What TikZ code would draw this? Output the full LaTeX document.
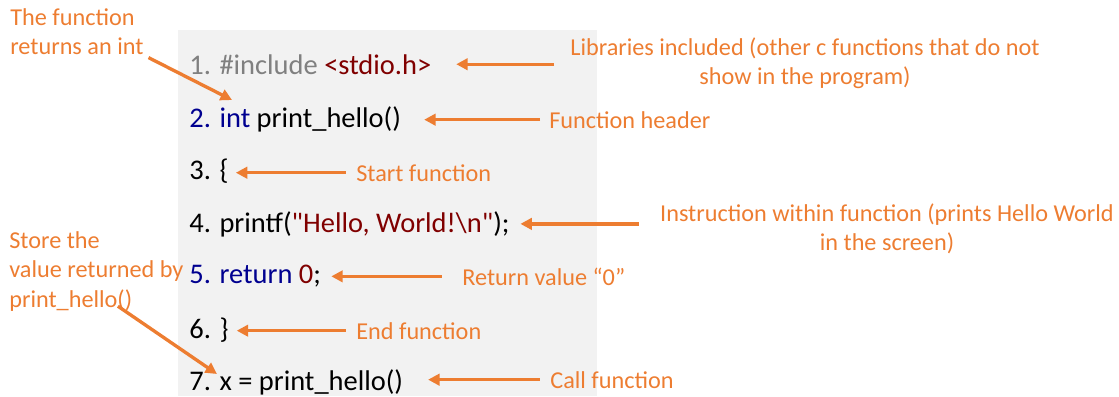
\documentclass[tikz,border=0pt]{standalone}
\usepackage{fontspec}
\setmainfont{Carlito}
\newfontfamily\codefont{Carlito}[Ligatures=TeXOff]
\usetikzlibrary{arrows.meta}

\definecolor{noteorange}{HTML}{ED7D31}
\definecolor{codebg}{HTML}{F2F2F2}
\definecolor{kwblue}{HTML}{000090}
\definecolor{strred}{HTML}{800000}
\definecolor{cmtgray}{HTML}{808080}

\tikzset{
	codeline/.style={anchor=base west, inner sep=0pt, font=\codefont\fontsize{16.2}{19}\selectfont},
	note/.style={text=noteorange, inner sep=0pt, align=center, font=\fontsize{13.8}{16.8}\selectfont},
	notearrow/.style={draw=noteorange, line width=1.9pt, -{Triangle[length=6.5pt,width=6.5pt]}},
}

\begin{document}
\begin{tikzpicture}[x=0.02cm,y=-0.02cm]
	\useasboundingbox (0,0) rectangle (1119,396);
	
	% Code-Hintergrund
	\fill[codebg] (178,30) rectangle (597,396);
	
	% Programmzeilen
	\node[codeline] (c1) at (189,74) {\color{cmtgray}1. \#include \color{strred}<stdio.h>};
	\node[codeline] (c2) at (189,127) {\color{kwblue}2. int \color{black}print\_hello()};
	\node[codeline] (c3) at (189,179) {3. \{};
	\node[codeline] (c4) at (189,232) {4. printf(\color{strred}"Hello, World!\textbackslash n"\color{black});};
	\node[codeline] (c5) at (189,283) {\color{kwblue}5. return \color{strred}0\color{black};};
	\node[codeline] (c6) at (189,338) {6. \}};
	\node[codeline] (c7) at (189,390) {7. x = print\_hello()};
	
	% Erklaerungen
	\node[note, anchor=north] (lib) at (805,37) {Libraries included (other c functions that do not\\show in the program)};
	\node[note, anchor=base west] (hdr) at (549,128) {Function header};
	\node[note, anchor=base west] (start) at (356,181) {Start function};
	\node[note, anchor=north] (instr) at (887,203) {Instruction within function (prints Hello World\\in the screen)};
	\node[note, anchor=base west] (retval) at (462,285) {Return value “0”};
	\node[note, anchor=base west] (end) at (356,339) {End function};
	\node[note, anchor=base west] (call) at (550,388) {Call function};
	\node[note, anchor=north west, align=left] (ret) at (10,8) {The function\\returns an int};
	\node[note, anchor=north west, align=left] (store) at (9,231) {Store the\\value returned by\\print\_hello()};
	
	% Pfeile
	\draw[notearrow, shorten <=9pt, shorten >=14pt] (lib.west |- c1.east) -- (c1.east);
	\draw[notearrow, shorten <=5pt, shorten >=13pt] (hdr.west) -- (hdr.west -| c2.east);
	\draw[notearrow, shorten <=5.7pt, shorten >=4pt] (start.west) -- (start.west -| c3.east);
	\draw[notearrow, shorten <=12pt, shorten >=6pt] (instr.west |- c4.east) -- (c4.east);
	\draw[notearrow, shorten <=11.4pt, shorten >=5.7pt] (retval.west) -- (retval.west -| c5.east);
	\draw[notearrow, shorten <=5.7pt, shorten >=4.5pt] (end.west) -- (end.west -| c6.east);
	\draw[notearrow, shorten <=5.7pt, shorten >=14pt] (call.west) -- (call.west -| c7.east);
	
	% schraege Pfeile
	\coordinate (intTip) at (232,100);
	\coordinate (xTip) at (217,374);
	\draw[notearrow, shorten <=3pt] (ret.south east) -- (intTip);
	\draw[notearrow] ([shift={(62pt,3pt)}]store.south west) -- (xTip);
	
\end{tikzpicture}
\end{document}
